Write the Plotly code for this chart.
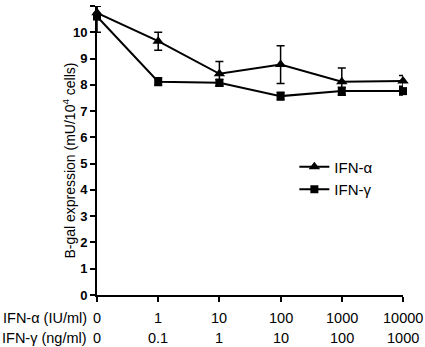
import plotly.graph_objects as go

# Data
x_pos = [0, 1, 2, 3, 4, 5]
alpha_labels = ["0", "1", "10", "100", "1000", "10000"]
gamma_labels = ["0", "0.1", "1", "10", "100", "1000"]
alpha_vals = [10.74, 9.66, 8.42, 8.77, 8.12, 8.15]
alpha_err = [0.25, 0.34, 0.47, 0.72, 0.52, 0.2]
gamma_vals = [10.6, 8.12, 8.08, 7.57, 7.76, 7.76]
gamma_err = [0.6, 0.15, 0.12, 0.15, 0.15, 0.15]
y_ticks = list(range(0, 12))

FONT = "Liberation Sans, Arial, Helvetica, sans-serif"

fig = go.Figure()
fig.add_trace(go.Scatter(
    x=x_pos, y=alpha_vals, name="IFN-α", mode="lines+markers",
    line=dict(color="black", width=2),
    marker=dict(symbol="triangle-up", size=10, color="black"),
    error_y=dict(type="data", array=alpha_err, color="black", thickness=1.5, width=4),
    cliponaxis=False, legendgroup="a"))
fig.add_trace(go.Scatter(
    x=x_pos, y=gamma_vals, name="IFN-γ", mode="lines+markers",
    line=dict(color="black", width=2),
    marker=dict(symbol="square", size=8, color="black"),
    error_y=dict(type="data", array=gamma_err, color="black", thickness=1.5, width=4),
    cliponaxis=False, legendgroup="g"))

TS = 14.5
annotations = []
for xp, a, g in zip(x_pos, alpha_labels, gamma_labels):
    annotations.append(dict(x=xp, y=0, xref="x", yref="paper", text=a, showarrow=False,
                            xanchor="center", yanchor="middle", yshift=-23,
                            font=dict(family=FONT, size=TS, color="black")))
    annotations.append(dict(x=xp, y=0, xref="x", yref="paper", text=g, showarrow=False,
                            xanchor="center", yanchor="middle", yshift=-43,
                            font=dict(family=FONT, size=TS, color="black")))
annotations.append(dict(x=0, y=0, xref="x", yref="paper", text="IFN-α (IU/ml)", showarrow=False,
                        xanchor="right", yanchor="middle", yshift=-23, xshift=-8,
                        font=dict(family=FONT, size=TS, color="black")))
annotations.append(dict(x=0, y=0, xref="x", yref="paper", text="IFN-γ (ng/ml)", showarrow=False,
                        xanchor="right", yanchor="middle", yshift=-43, xshift=-8,
                        font=dict(family=FONT, size=TS, color="black")))
annotations.append(dict(x=0, y=0.465, xref="paper", yref="paper",
                        text="B-gal expression (mU/10<sup>4</sup> cells)", showarrow=False,
                        textangle=-90, xanchor="center", yanchor="middle", xshift=-28,
                        font=dict(family=FONT, size=14, color="black")))

fig.update_layout(
    width=425, height=347,
    margin=dict(l=97, r=22, t=6, b=52),
    plot_bgcolor="white", paper_bgcolor="white",
    font=dict(family=FONT, size=12, color="black"),
    showlegend=True,
    xaxis=dict(range=[0, 5], showgrid=False, zeroline=False, showline=True,
               linecolor="black", linewidth=2, ticks="outside", ticklen=5,
               tickwidth=2, tickcolor="black", tickvals=x_pos, showticklabels=False),
    yaxis=dict(range=[0, 11], showgrid=False, zeroline=False, showline=True,
               linecolor="black", linewidth=2, ticks="outside", ticklen=5,
               tickwidth=2, tickcolor="black", tickvals=y_ticks,
               ticktext=[f"<b>{v}</b>" for v in y_ticks],
               tickfont=dict(family=FONT, size=13, color="black")),
    legend=dict(x=0.645, y=0.405, xanchor="left", yanchor="middle", bgcolor="rgba(0,0,0,0)",
                itemwidth=30, tracegroupgap=8, traceorder="normal",
                font=dict(family=FONT, size=15, color="black")),
    annotations=annotations,
)

fig.write_html("out.html")
